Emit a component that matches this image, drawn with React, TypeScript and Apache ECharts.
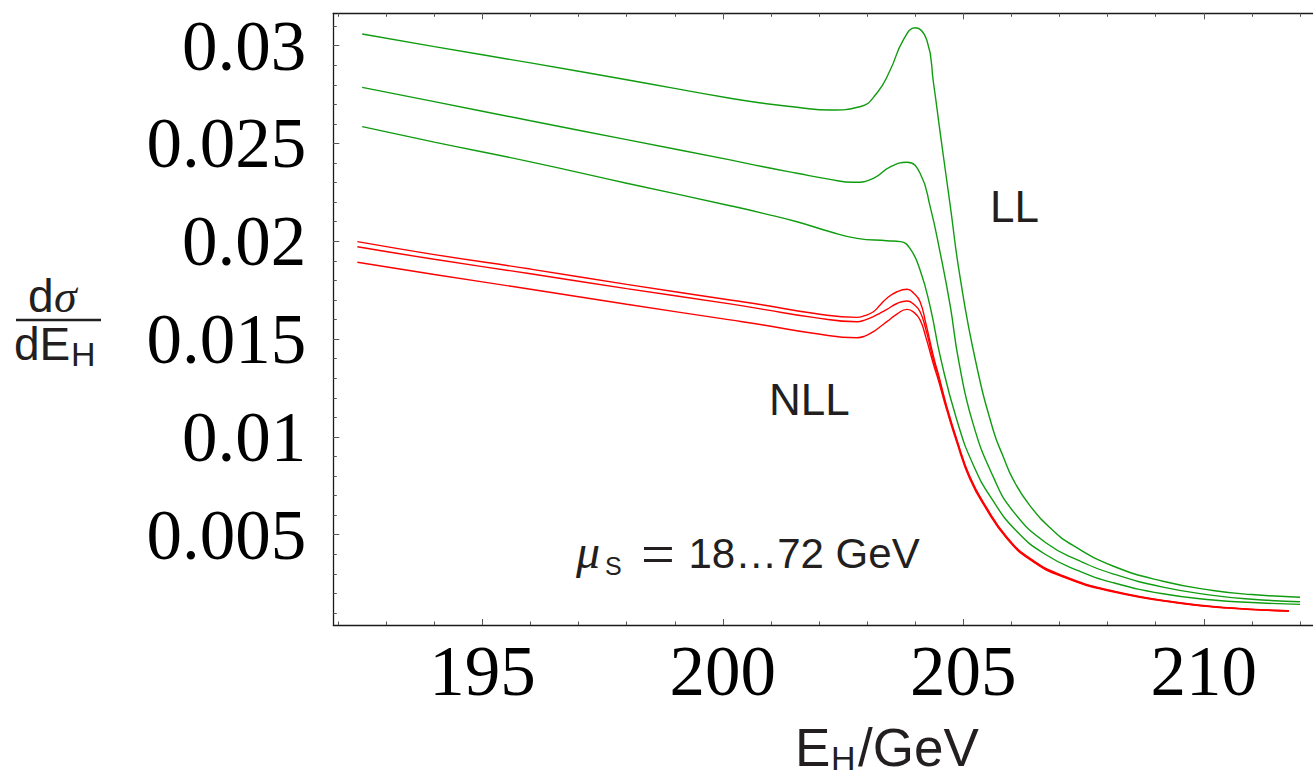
import React, { useEffect, useRef } from "react";
import * as echarts from "echarts";

// ---------- data ----------
const X_MIN = 191.9;
const X_MAX = 212.27;
const Y_MIN = 0.000383;
const Y_MAX = 0.031656;

const xMajorTicks = [195, 200, 205, 210];
const xTickLabels = ["195", "200", "205", "210"];
const xMinorTicks = [192, 193, 194, 195, 196, 197, 198, 199, 200, 201, 202, 203, 204, 205, 206, 207, 208, 209, 210, 211, 212];
const yMajorTicks = [0.005, 0.01, 0.015, 0.02, 0.025, 0.03];
const yTickLabels = ["0.005", "0.01", "0.015", "0.02", "0.025", "0.03"];
const yMinorTicks = [
  0.001, 0.002, 0.003, 0.004, 0.005, 0.006, 0.007, 0.008, 0.009, 0.01,
  0.011, 0.012, 0.013, 0.014, 0.015, 0.016, 0.017, 0.018, 0.019, 0.02,
  0.021, 0.022, 0.023, 0.024, 0.025, 0.026, 0.027, 0.028, 0.029, 0.03, 0.031,
];

// LL curves (green)
const llHigh: [number, number][] = [
  [192.5, 0.0306], [194.0, 0.02995], [196.0, 0.02912], [198.0, 0.02826], [200.15, 0.02731],
  [200.84, 0.02706], [201.54, 0.02685], [202.23, 0.02671], [202.85, 0.02688], [203.2, 0.02757],
  [203.48, 0.02876], [203.75, 0.03029], [204.0, 0.03092], [204.24, 0.03029], [204.38, 0.02808],
  [204.52, 0.02552], [204.73, 0.02177], [204.93, 0.01819], [205.25, 0.01393], [205.62, 0.01035],
  [205.83, 0.00899], [206.04, 0.0078], [206.38, 0.0065], [206.87, 0.0052], [207.28, 0.00445],
  [208.11, 0.0034], [209.15, 0.00262], [210.19, 0.00215], [211.0, 0.00194], [212.0, 0.0018],
];
const llMid: [number, number][] = [
  [192.5, 0.02787], [194.0, 0.02714], [196.0, 0.02616], [198.0, 0.0252], [200.15, 0.02416],
  [200.84, 0.02381], [201.54, 0.02348], [202.2, 0.02318], [202.72, 0.02302], [203.13, 0.02322],
  [203.48, 0.02381], [203.83, 0.02404], [204.1, 0.02348], [204.31, 0.02177], [204.52, 0.01939],
  [204.73, 0.01666], [204.9, 0.01393], [205.2, 0.01069], [205.62, 0.00797], [206.04, 0.00618],
  [206.73, 0.00456], [207.42, 0.00366], [208.11, 0.003], [209.15, 0.00232], [210.19, 0.0019],
  [211.0, 0.0017], [212.0, 0.00157],
];
const llLow: [number, number][] = [
  [192.5, 0.02586], [194.0, 0.02507], [196.0, 0.02406], [198.0, 0.02297], [200.15, 0.02182],
  [200.84, 0.02143], [201.54, 0.021], [202.23, 0.02049], [202.79, 0.02015], [203.41, 0.02003],
  [203.69, 0.01998], [203.89, 0.01964], [204.1, 0.01853], [204.31, 0.01666], [204.53, 0.014],
  [204.86, 0.0109], [205.2, 0.0086], [205.6, 0.0068], [206.1, 0.0052], [206.7, 0.004],
  [207.4, 0.00315], [208.11, 0.00255], [209.15, 0.00198], [210.19, 0.00166], [211.0, 0.00153],
  [212.0, 0.00144],
];

// NLL curves (red)
const nllHigh: [number, number][] = [
  [192.4, 0.01998], [194.0, 0.01932], [196.0, 0.01858], [198.0, 0.0178], [200.15, 0.017],
  [200.84, 0.01674], [201.88, 0.01632], [202.79, 0.01611], [202.95, 0.0162], [203.13, 0.0164],
  [203.27, 0.01674], [203.41, 0.01709], [203.62, 0.01742], [203.83, 0.01755], [203.97, 0.01734],
  [204.1, 0.01691], [204.22, 0.0158], [204.38, 0.0141], [204.48, 0.0132], [204.65, 0.0116],
  [204.86, 0.0099], [205.13, 0.008], [205.48, 0.0064], [205.9, 0.0049], [206.38, 0.0038],
  [207.07, 0.0029], [208.11, 0.00212], [209.5, 0.00152], [210.5, 0.00127], [211.77, 0.00111],
];
const nllMid: [number, number][] = [
  [192.4, 0.01972], [194.0, 0.01908], [196.0, 0.01834], [198.0, 0.01758], [200.15, 0.0168],
  [200.84, 0.01652], [201.88, 0.01611], [202.79, 0.01589], [202.95, 0.01597], [203.13, 0.01615],
  [203.27, 0.01633], [203.41, 0.01652], [203.62, 0.01682], [203.83, 0.01695], [203.97, 0.01678],
  [204.1, 0.0164], [204.22, 0.0155], [204.38, 0.0139], [204.48, 0.0131], [204.65, 0.01152],
  [204.86, 0.00985], [205.13, 0.00795], [205.48, 0.00636], [205.9, 0.00486], [206.38, 0.00376],
  [207.07, 0.00287], [208.11, 0.0021], [209.5, 0.00151], [210.5, 0.00126], [211.77, 0.0011],
];
const nllLow: [number, number][] = [
  [192.4, 0.01893], [194.0, 0.0183], [196.0, 0.01755], [198.0, 0.01678], [200.15, 0.01598],
  [200.84, 0.01572], [201.88, 0.0153], [202.79, 0.01507], [202.95, 0.01515], [203.13, 0.01538],
  [203.27, 0.01563], [203.41, 0.01589], [203.62, 0.01628], [203.83, 0.01652], [203.97, 0.01637],
  [204.1, 0.01598], [204.22, 0.0151], [204.38, 0.0137], [204.48, 0.0129], [204.65, 0.01142],
  [204.86, 0.00975], [205.13, 0.00788], [205.48, 0.0063], [205.9, 0.00482], [206.38, 0.00373],
  [207.07, 0.00284], [208.11, 0.00208], [209.5, 0.00149], [210.5, 0.00125], [211.77, 0.00109],
];

const GREEN = "#109c10";
const RED = "#ff0000";

// ---------- helpers ----------
const SANS = "'Liberation Sans', Arial, Helvetica, sans-serif";
const SERIF = "'Liberation Serif', 'Times New Roman', serif";
const SANS_C = 0.3467; // central offset (em) above baseline
const SERIF_C = 0.3374;

function txt(text: string, x: number, baseline: number, size: number, family: string, italic = false) {
  const c = family === SERIF ? SERIF_C : SANS_C;
  return {
    type: "text",
    x,
    y: baseline - c * size,
    silent: true,
    style: {
      text,
      fontSize: size,
      fontFamily: family,
      fontStyle: italic ? "italic" : "normal",
      fill: "#231f20",
      align: "left",
      textAlign: "left",
      verticalAlign: "middle",
      textVerticalAlign: "middle",
    },
  };
}

function labelFor(v: number, ticks: number[], labels: string[]) {
  for (let i = 0; i < ticks.length; i++) {
    if (Math.abs(ticks[i] - v) < 1e-9) return labels[i];
  }
  return "";
}

export default function App() {
  const ref = useRef<HTMLDivElement>(null);

  useEffect(() => {
    if (!ref.current) return;
    const chart = echarts.init(ref.current, null, { renderer: "svg" });

    const axisLine = { show: true, onZero: false, lineStyle: { color: "#1a1a1a", width: 1.3 } };
    const tickStyle = { color: "#555555", width: 1 };

    const xBase = { type: "value", min: X_MIN, max: X_MAX, splitLine: { show: false } };
    const yBase = { type: "value", min: Y_MIN, max: Y_MAX, splitLine: { show: false } };

    const line = (data: [number, number][], color: string) => ({
      type: "line",
      data,
      xAxisIndex: 0,
      yAxisIndex: 0,
      showSymbol: false,
      symbol: "none",
      smooth: 0.5,
      silent: true,
      lineStyle: { color, width: 1.4 },
    });

    const option: any = {
      animation: false,
      backgroundColor: "#ffffff",
      grid: {
        left: 333.3,
        top: 13.3,
        right: 0,
        bottom: 152,
        containLabel: false,
        outerBoundsMode: "none",
      },
      xAxis: [
        {
          ...xBase,
          position: "bottom",
          axisLine,
          axisTick: { show: true, inside: true, length: 6, customValues: xMajorTicks, lineStyle: tickStyle },
          axisLabel: {
            show: true,
            customValues: xMajorTicks,
            formatter: (v: number) => labelFor(v, xMajorTicks, xTickLabels),
            fontFamily: SERIF,
            fontSize: 71,
            color: "#000000",
            margin: 45.5,
            verticalAlign: "middle",
          },
        },
        {
          ...xBase,
          position: "bottom",
          axisLine: { show: false },
          axisTick: { show: true, inside: true, length: 3.5, customValues: xMinorTicks, lineStyle: tickStyle },
          axisLabel: { show: false },
        },
        {
          ...xBase,
          position: "top",
          axisLine,
          axisTick: { show: true, inside: true, length: 6, customValues: xMajorTicks, lineStyle: tickStyle },
          axisLabel: { show: false },
        },
        {
          ...xBase,
          position: "top",
          axisLine: { show: false },
          axisTick: { show: true, inside: true, length: 3.5, customValues: xMinorTicks, lineStyle: tickStyle },
          axisLabel: { show: false },
        },
      ],
      yAxis: [
        {
          ...yBase,
          position: "left",
          axisLine,
          axisTick: { show: true, inside: true, length: 6, customValues: yMajorTicks, lineStyle: tickStyle },
          axisLabel: {
            show: true,
            customValues: yMajorTicks,
            formatter: (v: number) => labelFor(v, yMajorTicks, yTickLabels),
            fontFamily: SERIF,
            fontSize: 71,
            color: "#000000",
            margin: 27,
            align: "right",
            verticalAlign: "middle",
            padding: [0, 0, 12, 0],
          },
        },
        {
          ...yBase,
          position: "left",
          axisLine: { show: false },
          axisTick: { show: true, inside: true, length: 3.5, customValues: yMinorTicks, lineStyle: tickStyle },
          axisLabel: { show: false },
        },
      ],
      series: [
        line(llHigh, GREEN),
        line(llMid, GREEN),
        line(llLow, GREEN),
        line(nllHigh, RED),
        line(nllMid, RED),
        line(nllLow, RED),
      ],
      graphic: [
        // y-axis title: dσ / dE_H
        txt("d", 28, 312, 46, SANS),
        txt("σ", 54, 312, 46, SERIF, true),
        {
          type: "line",
          silent: true,
          shape: { x1: 16, y1: 320, x2: 101, y2: 320 },
          style: { stroke: "#231f20", lineWidth: 2.5 },
        },
        txt("d", 14, 360, 46, SANS),
        txt("E", 39.6, 360, 46, SANS),
        txt("H", 71, 366, 34, SANS),
        // x-axis title: E_H/GeV
        txt("E", 795, 765.5, 53, SANS),
        txt("H", 831, 769.5, 34, SANS),
        txt("/GeV", 858, 765.5, 53, SANS),
        // curve labels
        txt("LL", 990, 222, 44, SANS),
        txt("NLL", 769, 415, 44, SANS),
        // scale annotation
        txt("μ", 576, 568, 48, SERIF, true),
        txt("S", 605, 575, 25, SANS),
        txt("=", 641, 574.3, 60, SERIF),
        txt("18…72 GeV", 688.5, 568.3, 42, SANS),
      ],
    };

    chart.setOption(option);
    return () => chart.dispose();
  }, []);

  return (
    <div
      ref={ref}
      style={{ position: "fixed", left: 0, top: 0, width: 1313, height: 777, background: "#fff" }}
    />
  );
}
